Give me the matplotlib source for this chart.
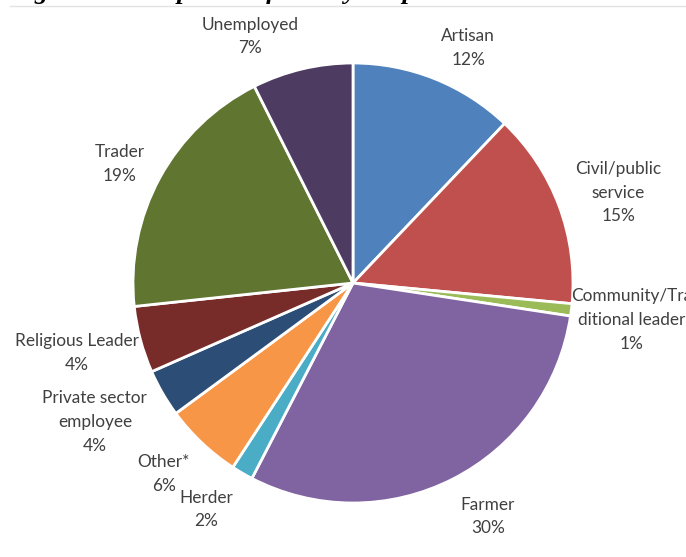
import numpy as np
import matplotlib.pyplot as plt
from matplotlib.lines import Line2D

# shares of respondents by occupation (clockwise from 12 o'clock)
occupations = ['Artisan', 'Civil/public\nservice', 'Community/Tra\nditional leader',
               'Farmer', 'Herder', 'Other*', 'Private sector\nemployee',
               'Religious Leader', 'Trader', 'Unemployed']
shares = [12.1, 14.4, 0.9, 30.2, 1.6, 5.7, 3.5, 4.9, 19.3, 7.4]
pct_labels = ['12%', '15%', '1%', '30%', '2%', '6%', '4%', '4%', '19%', '7%']

colors = ['#4F81BD', '#C0504D', '#9BBB59', '#8064A2', '#4BACC6',
          '#F79646', '#2C4D75', '#772C2A', '#5F7530', '#4D3B62']

W, H = 686, 557
cx, cy, R = 353, 283, 220
area_left, area_right = 15, 692   # chart area edges, px (right one is cropped)

fig = plt.figure(figsize=(W / 100, H / 100), dpi=100)
ax = fig.add_axes([0, 0, 1, 1])

wedges, _ = ax.pie(shares, colors=colors, startangle=90, counterclock=False,
                   radius=1, wedgeprops=dict(edgecolor='white', linewidth=2))

ax.set_xlim(-cx / R, (W - cx) / R)
ax.set_ylim(-(H - cy) / R, cy / R)
ax.set_aspect('auto')
ax.axis('off')

# excel-like "outside end" labels: the box corner nearest the pie sits on
# an anchor just outside the rim, at the wedge's middle angle, and the box
# is kept inside the chart area
renderer = fig.canvas.get_renderer()
anchor = 1.08
for w, name, pct in zip(wedges, occupations, pct_labels):
    mid = np.deg2rad((w.theta1 + w.theta2) / 2)
    ux, uy = np.cos(mid), np.sin(mid)
    t = ax.text(anchor * ux, anchor * uy, name + '\n' + pct,
                ha='left' if ux >= 0 else 'right', va='center',
                multialignment='center', fontsize=12.4, color='#404040',
                family='Lato', linespacing=1.6)
    bb = t.get_window_extent(renderer)
    hh = bb.height / 2 / R
    shift = 0
    if bb.x0 < area_left:
        shift = area_left - bb.x0
    elif bb.x1 > area_right:
        shift = area_right - bb.x1
    t.set_x(anchor * ux + shift / R)
    t.set_y(anchor * uy + hh * uy - 4 / R)

# cut-off caption above the chart (only its lower edge shows)
fig.text(10 / W, 1 + 1.5 / H, 'Figure 4: Occupation of Survey Respondents',
         ha='left', va='baseline', fontsize=19, fontweight='bold',
         fontstyle='italic', family='Liberation Serif')
fig.add_artist(Line2D([10 / W, 1], [1 - 5.5 / H, 1 - 5.5 / H],
                      transform=fig.transFigure, color='#e3e3e3', lw=1))

fig.savefig('out.png', dpi=100)
